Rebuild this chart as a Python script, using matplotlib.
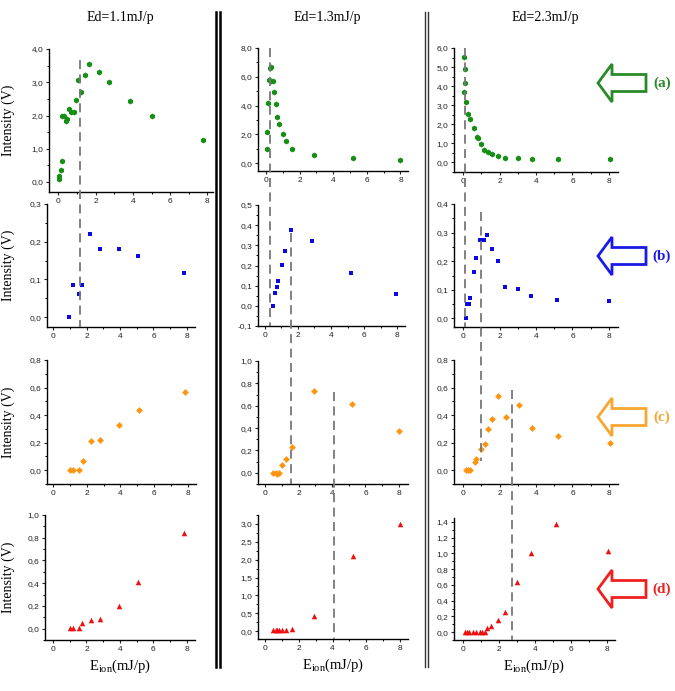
import matplotlib
matplotlib.use("Agg")
import matplotlib.pyplot as plt
from matplotlib.lines import Line2D
from matplotlib.patches import FancyArrow
from matplotlib.ticker import MultipleLocator, FuncFormatter

plt.rcParams["mathtext.fontset"] = "custom"
plt.rcParams["mathtext.rm"] = "Liberation Serif"

# ---- data: rows a-d (green, blue, orange, red), columns Ed = 1.1 / 1.3 / 2.3 mJ/p ----
titles = ["Ed=1.1mJ/p", "Ed=1.3mJ/p", "Ed=2.3mJ/p"]
row_tags = ["(a)", "(b)", "(c)", "(d)"]

a11_x = [0.05, 0.05, 0.12, 0.18, 0.21, 0.3, 0.39, 0.48, 0.57, 0.68, 0.84, 0.95, 1.04, 1.23, 1.45, 1.66, 2.2, 2.73, 3.86, 5.05, 7.77]
a11_y = [0.1, 0.17, 0.35, 0.62, 2.0, 2.0, 1.84, 1.9, 2.19, 2.12, 2.1, 2.47, 3.06, 2.7, 3.21, 3.55, 3.32, 3.01, 2.45, 2.0, 1.26]
a13_x = [0.08, 0.08, 0.14, 0.18, 0.24, 0.32, 0.32, 0.4, 0.5, 0.58, 0.66, 0.78, 0.98, 1.17, 1.55, 2.83, 5.17, 7.96]
a13_y = [1.0, 2.18, 4.18, 5.8, 6.6, 6.68, 5.73, 5.73, 4.92, 4.1, 3.2, 2.74, 2.04, 1.53, 1.0, 0.53, 0.32, 0.21]
a23_x = [0.07, 0.11, 0.13, 0.07, 0.16, 0.27, 0.37, 0.62, 0.77, 0.84, 1.0, 1.17, 1.35, 1.59, 1.94, 2.32, 3.0, 3.76, 5.19, 8.05]
a23_y = [5.51, 4.91, 4.18, 3.67, 3.16, 2.56, 2.26, 1.81, 1.35, 1.26, 0.96, 0.65, 0.56, 0.46, 0.33, 0.26, 0.21, 0.19, 0.18, 0.16]

b11_x = [0.98, 1.19, 1.55, 1.71, 2.23, 2.79, 3.92, 5.07, 7.8]
b11_y = [0.0, 0.086, 0.062, 0.086, 0.22, 0.182, 0.182, 0.163, 0.116]
b13_x = [0.51, 0.61, 0.71, 0.77, 1.01, 1.21, 1.56, 2.85, 5.22, 7.96]
b13_y = [0.0, 0.066, 0.091, 0.124, 0.201, 0.272, 0.378, 0.322, 0.162, 0.059]
b23_x = [0.15, 0.24, 0.31, 0.36, 0.58, 0.69, 0.91, 1.16, 1.33, 1.56, 1.89, 2.29, 3.0, 3.73, 5.13, 8.0]
b23_y = [0.0, 0.052, 0.052, 0.071, 0.162, 0.21, 0.273, 0.273, 0.292, 0.242, 0.201, 0.109, 0.104, 0.08, 0.064, 0.06]

c11_x = [1.03, 1.19, 1.54, 1.76, 2.24, 2.77, 3.92, 5.09, 7.82]
c11_y = [0.0, 0.0, 0.0, 0.065, 0.213, 0.222, 0.327, 0.438, 0.569]
c13_x = [0.5, 0.63, 0.73, 0.85, 1.03, 1.25, 1.59, 2.92, 5.22, 8.0]
c13_y = [0.0, 0.0, -0.01, 0.0, 0.074, 0.122, 0.235, 0.729, 0.619, 0.375]
c23_x = [0.15, 0.27, 0.4, 0.64, 0.73, 0.99, 1.2, 1.35, 1.59, 1.94, 2.34, 3.05, 3.76, 5.19, 8.05]
c23_y = [0.0, 0.0, 0.0, 0.058, 0.078, 0.155, 0.189, 0.3, 0.373, 0.54, 0.388, 0.47, 0.31, 0.25, 0.2]

d11_x = [1.0, 1.19, 1.55, 1.75, 2.25, 2.79, 3.94, 5.09, 7.82]
d11_y = [0.006, 0.006, 0.006, 0.05, 0.073, 0.088, 0.196, 0.408, 0.845]
d13_x = [0.49, 0.63, 0.73, 0.85, 1.03, 1.25, 1.58, 2.89, 5.22, 7.96]
d13_y = [0.02, 0.02, 0.02, 0.02, 0.02, 0.02, 0.066, 0.41, 2.11, 3.01]
d23_x = [0.09, 0.22, 0.33, 0.56, 0.7, 0.93, 1.07, 1.22, 1.35, 1.57, 1.94, 2.33, 3.02, 3.78, 5.17, 8.04]
d23_y = [0.0, 0.0, 0.0, 0.0, 0.0, 0.0, 0.0, 0.0, 0.05, 0.078, 0.152, 0.251, 0.634, 1.004, 1.38, 1.033]

series = [
    [(a11_x, a11_y), (a13_x, a13_y), (a23_x, a23_y)],
    [(b11_x, b11_y), (b13_x, b13_y), (b23_x, b23_y)],
    [(c11_x, c11_y), (c13_x, c13_y), (c23_x, c23_y)],
    [(d11_x, d11_y), (d13_x, d13_y), (d23_x, d23_y)],
]

# ---- styling / layout ----
W, H = 675, 691
point_col = ["#159015", "#0a0ae0", "#ff9410", "#ee1010"]
arrow_col = ["#2a8a2a", "#1a1ae6", "#f7a630", "#ee2020"]
markers = ["h", "s", "D", "^"]
msize = [18, 11, 12, 16]

# axes boxes in pixels: left, top, right, bottom
boxes = [
    [(49, 49, 213, 192), (258, 48, 408, 171), (454, 48, 618, 172)],
    [(47, 204, 195, 327), (258, 205, 405, 326), (454, 204, 618, 327)],
    [(47, 360, 196, 484), (258, 361, 408, 484), (454, 360, 618, 484)],
    [(45, 515, 195, 640), (258, 515, 408, 639), (454, 518, 615, 640)],
]
xlims = [
    [(-0.5, 8.3), (-0.48, 8.45), (-0.5, 8.5)],
    [(-0.36, 8.48), (-0.42, 8.48), (-0.5, 8.5)],
    [(-0.36, 8.5), (-0.42, 8.54), (-0.5, 8.5)],
    [(-0.48, 8.5), (-0.41, 8.46), (-0.5, 8.44)],
]
ylims = [
    [(-0.3, 4.0), (-0.55, 8.0), (-0.5, 6.0)],
    [(-0.026, 0.3), (-0.1, 0.5), (-0.03, 0.4)],
    [(-0.1, 0.8), (-0.1, 1.0), (-0.1, 0.8)],
    [(-0.1, 1.0), (-0.22, 3.25), (-0.1, 1.45)],
]
ymajor = [[1.0, 2.0, 1.0], [0.1, 0.1, 0.1], [0.2, 0.2, 0.2], [0.2, 0.5, 0.2]]


def comma(v, pos):
    if abs(v) < 1e-9:
        v = 0.0
    return f"{v:.1f}".replace(".", ",")


fig = plt.figure(figsize=(W / 100, H / 100), dpi=100)
axes = []
for r in range(4):
    row_axes = []
    for c in range(3):
        l, t, rt, b = boxes[r][c]
        ax = fig.add_axes([l / W, 1 - b / H, (rt - l) / W, (b - t) / H])
        ax.patch.set_alpha(0)
        x, y = series[r][c]
        ax.scatter(x, y, s=msize[r], marker=markers[r], color=point_col[r],
                   linewidths=0, zorder=3)
        ax.set_xlim(*xlims[r][c])
        ax.set_ylim(*ylims[r][c])
        ax.xaxis.set_major_locator(MultipleLocator(2))
        ax.xaxis.set_minor_locator(MultipleLocator(1))
        ax.yaxis.set_major_locator(MultipleLocator(ymajor[r][c]))
        ax.yaxis.set_minor_locator(MultipleLocator(ymajor[r][c] / 2))
        ax.yaxis.set_major_formatter(FuncFormatter(comma))
        for s in ["top", "right"]:
            ax.spines[s].set_visible(False)
        for s in ["left", "bottom"]:
            ax.spines[s].set_linewidth(1.0)
        ax.tick_params(which="major", length=2.5, width=0.8, labelsize=6,
                       pad=1.5, colors="#222222")
        ax.tick_params(which="minor", length=1.5, width=0.7)
        for lab in ax.get_xticklabels() + ax.get_yticklabels():
            lab.set_family("Liberation Sans")
        if c == 0:
            ax.set_ylabel("Intensity (V)", family="Liberation Serif", fontsize=10)
            ax.yaxis.set_label_coords((15 - l) / (rt - l), 0.5)
        if r == 3:
            ax.set_xlabel(r"E$_{\mathrm{ion}}$(mJ/p)", family="Liberation Serif",
                          fontsize=10.5, labelpad=4)
        row_axes.append(ax)
    axes.append(row_axes)

# ---- dashed guide lines: (col, x row, x, top row, y top, bottom row, y bottom) ----
guides = [
    (0, 1, 1.6, 0, 3.67, 1, None),
    (1, 0, 0.25, 0, 8.0, 1, None),
    (1, 1, 1.58, 1, 0.36, 2, None),
    (1, 2, 4.1, 2, 0.72, 3, None),
    (2, 0, 0.1, 0, 6.0, 1, None),
    (2, 1, 0.98, 1, 0.372, 2, 0.07),
    (2, 2, 2.67, 2, 0.58, 3, None),
]
inv = fig.transFigure.inverted()
for c, xr, xv, tr, yt, br, yb in guides:
    xd = axes[xr][c].transData.transform((xv, 0))[0]
    yd_top = axes[tr][c].transData.transform((0, yt))[1]
    if yb is None:
        yb = axes[br][c].get_ylim()[0]
    yd_bot = axes[br][c].transData.transform((0, yb))[1]
    p0 = inv.transform((xd, yd_top))
    p1 = inv.transform((xd, yd_bot))
    fig.add_artist(Line2D([p0[0], p1[0]], [p0[1], p1[1]], transform=fig.transFigure,
                          color="#777777", lw=1.3, ls=(0, (5, 3)), zorder=5))

# ---- overlay for titles, separators and arrows (pixel coordinates) ----
ov = fig.add_axes([0, 0, 1, 1], zorder=10)
ov.set_xlim(0, W)
ov.set_ylim(H, 0)
ov.axis("off")

for tx, txt in zip([120, 327, 545], titles):
    ov.text(tx, 17, txt, ha="center", va="center", family="Liberation Serif", fontsize=10)

ov.plot([216, 216], [12, 667], color="black", lw=1.8)
ov.plot([219.5, 219.5], [12, 667], color="black", lw=1.8)
ov.plot([425, 425], [12, 667], color="#333333", lw=1.0)
ov.plot([428, 428], [12, 667], color="#333333", lw=1.0)

for ay, tag, col in zip([83, 256, 417, 589], row_tags, arrow_col):
    ov.add_patch(FancyArrow(646, ay, -48, 0, width=17, head_width=38, head_length=14,
                            length_includes_head=True, fill=False, ec=col, lw=2))
    ov.text(662, ay, tag, ha="center", va="center", family="Liberation Serif",
            fontsize=11, fontweight="bold", color=col)

fig.savefig("out.png", dpi=100, facecolor="white")
